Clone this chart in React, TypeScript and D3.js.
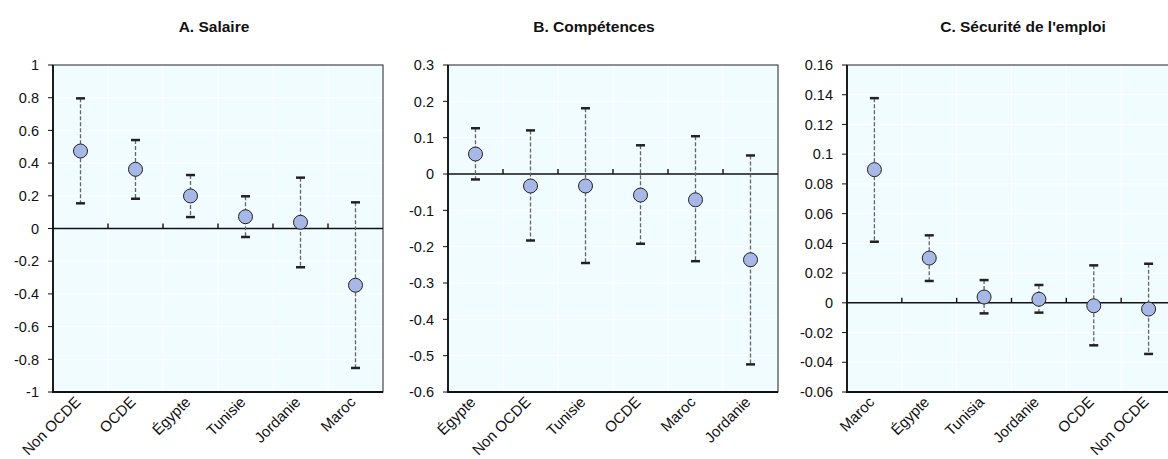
import React, { useEffect, useRef } from "react";
import * as d3 from "d3";

// Panel A. Salaire
const catsA = ["Non OCDE", "OCDE", "Égypte", "Tunisie", "Jordanie", "Maroc"];
const valsA = [0.474, 0.362, 0.199, 0.072, 0.038, -0.347];
const lowA = [0.154, 0.182, 0.07, -0.052, -0.237, -0.853];
const highA = [0.796, 0.541, 0.327, 0.197, 0.311, 0.16];
const ticksA = [-1, -0.8, -0.6, -0.4, -0.2, 0, 0.2, 0.4, 0.6, 0.8, 1];

// Panel B. Compétences
const catsB = ["Égypte", "Non OCDE", "Tunisie", "OCDE", "Maroc", "Jordanie"];
const valsB = [0.055, -0.033, -0.033, -0.058, -0.071, -0.236];
const lowB = [-0.015, -0.183, -0.245, -0.192, -0.24, -0.524];
const highB = [0.126, 0.12, 0.181, 0.079, 0.104, 0.051];
const ticksB = [-0.6, -0.5, -0.4, -0.3, -0.2, -0.1, 0, 0.1, 0.2, 0.3];

// Panel C. Sécurité de l'emploi
const catsC = ["Maroc", "Égypte", "Tunisia", "Jordanie", "OCDE", "Non OCDE"];
const valsC = [0.0896, 0.0301, 0.0039, 0.0024, -0.002, -0.0042];
const lowC = [0.0411, 0.0147, -0.0071, -0.0066, -0.0286, -0.0344];
const highC = [0.1377, 0.0454, 0.0153, 0.012, 0.0252, 0.0263];
const ticksC = [-0.06, -0.04, -0.02, 0, 0.02, 0.04, 0.06, 0.08, 0.1, 0.12, 0.14, 0.16];

const titles = ["A. Salaire", "B. Compétences", "C. Sécurité de l'emploi"];

const W = 1168;
const H = 459;
const TOP = 65;
const BOTTOM = 392;
const FONT = '"Liberation Sans", Arial, sans-serif';

const App = () => {
  const ref = useRef<SVGSVGElement>(null);

  useEffect(() => {
    const svg = d3.select(ref.current);
    svg.selectAll("*").remove();

    const panels = [
      { cats: catsA, vals: valsA, low: lowA, high: highA, ticks: ticksA, left: 53, right: 383, titleX: 214 },
      { cats: catsB, vals: valsB, low: lowB, high: highB, ticks: ticksB, left: 448, right: 778, titleX: 594 },
      { cats: catsC, vals: valsC, low: lowC, high: highC, ticks: ticksC, left: 847, right: 1176, titleX: 1023 },
    ];

    panels.forEach((p, pi) => {
      const g = svg.append("g");
      const x = d3.scaleBand<string>().domain(p.cats).range([p.left, p.right]);
      const y = d3.scaleLinear()
        .domain([p.ticks[0], p.ticks[p.ticks.length - 1]])
        .range([BOTTOM, TOP]);

      // background
      g.append("rect")
        .attr("x", p.left).attr("y", TOP)
        .attr("width", p.right - p.left).attr("height", BOTTOM - TOP)
        .attr("fill", "#F0FCFF");

      // grid
      g.selectAll(".hg").data(p.ticks.slice(1, -1)).join("line")
        .attr("x1", p.left).attr("x2", p.right)
        .attr("y1", d => y(d)).attr("y2", d => y(d))
        .attr("stroke", "#fff").attr("stroke-width", 1);
      const bounds = p.cats.slice(1).map(c => x(c) as number);
      g.selectAll(".vg").data(bounds).join("line")
        .attr("x1", d => d).attr("x2", d => d)
        .attr("y1", TOP).attr("y2", BOTTOM)
        .attr("stroke", "#fff").attr("stroke-width", 1);

      // frame
      g.append("rect")
        .attr("x", p.left).attr("y", TOP)
        .attr("width", p.right - p.left).attr("height", BOTTOM - TOP)
        .attr("fill", "none").attr("stroke", "#222").attr("stroke-width", 1);
      g.append("path")
        .attr("d", `M${p.left},${TOP}V${BOTTOM}H${p.right}`)
        .attr("fill", "none").attr("stroke", "#111").attr("stroke-width", 1.8);

      // y ticks & labels
      g.selectAll(".yt").data(p.ticks).join("line")
        .attr("x1", p.left - 5).attr("x2", p.left)
        .attr("y1", d => y(d)).attr("y2", d => y(d))
        .attr("stroke", "#111").attr("stroke-width", 1);
      g.selectAll(".yl").data(p.ticks).join("text")
        .attr("x", p.left - 14)
        .attr("y", d => y(d))
        .attr("dy", "0.36em")
        .attr("text-anchor", "end")
        .attr("font-family", FONT)
        .attr("font-size", 14.5)
        .attr("fill", "#111")
        .text(d => String(+d.toFixed(2)));

      // zero line with tick marks
      g.append("line")
        .attr("x1", p.left).attr("x2", p.right)
        .attr("y1", y(0)).attr("y2", y(0))
        .attr("stroke", "#111").attr("stroke-width", 1.4);
      g.selectAll(".zt").data(bounds).join("line")
        .attr("x1", d => d).attr("x2", d => d)
        .attr("y1", y(0) - 5).attr("y2", y(0))
        .attr("stroke", "#111").attr("stroke-width", 1.4);

      const cx = (c: string) => (x(c) as number) + x.bandwidth() / 2;

      // error bars
      g.selectAll(".eb").data(p.cats).join("line")
        .attr("x1", c => cx(c)).attr("x2", c => cx(c))
        .attr("y1", (c, i) => y(p.high[i])).attr("y2", (c, i) => y(p.low[i]))
        .attr("stroke", "#666").attr("stroke-width", 1.3)
        .attr("stroke-dasharray", "4,2");
      const caps = p.cats.flatMap((c, i) => [{ c, v: p.high[i] }, { c, v: p.low[i] }]);
      g.selectAll(".cap").data(caps).join("line")
        .attr("x1", d => cx(d.c) - 4.5).attr("x2", d => cx(d.c) + 4.5)
        .attr("y1", d => y(d.v)).attr("y2", d => y(d.v))
        .attr("stroke", "#222").attr("stroke-width", 2.5);

      // points
      g.selectAll(".pt").data(p.cats).join("circle")
        .attr("cx", c => cx(c))
        .attr("cy", (c, i) => y(p.vals[i]))
        .attr("r", 7)
        .attr("fill", "#A8B8E6")
        .attr("stroke", "#222").attr("stroke-width", 1);

      // x labels
      g.selectAll(".xl").data(p.cats).join("text")
        .attr("transform", c => `translate(${cx(c) + 1},${BOTTOM + 11}) rotate(-45)`)
        .attr("text-anchor", "end")
        .attr("font-family", FONT)
        .attr("font-size", 15)
        .attr("fill", "#111")
        .text(c => c);

      // title
      g.append("text")
        .attr("x", p.titleX).attr("y", 32)
        .attr("text-anchor", "middle")
        .attr("font-family", FONT)
        .attr("font-weight", "bold")
        .attr("font-size", 15.5)
        .attr("fill", "#111")
        .text(titles[pi]);
    });
  }, []);

  return (
    <svg
      ref={ref}
      width={W}
      height={H}
      style={{ position: "absolute", left: 0, top: 0, background: "#fff" }}
    />
  );
};

export default App;
